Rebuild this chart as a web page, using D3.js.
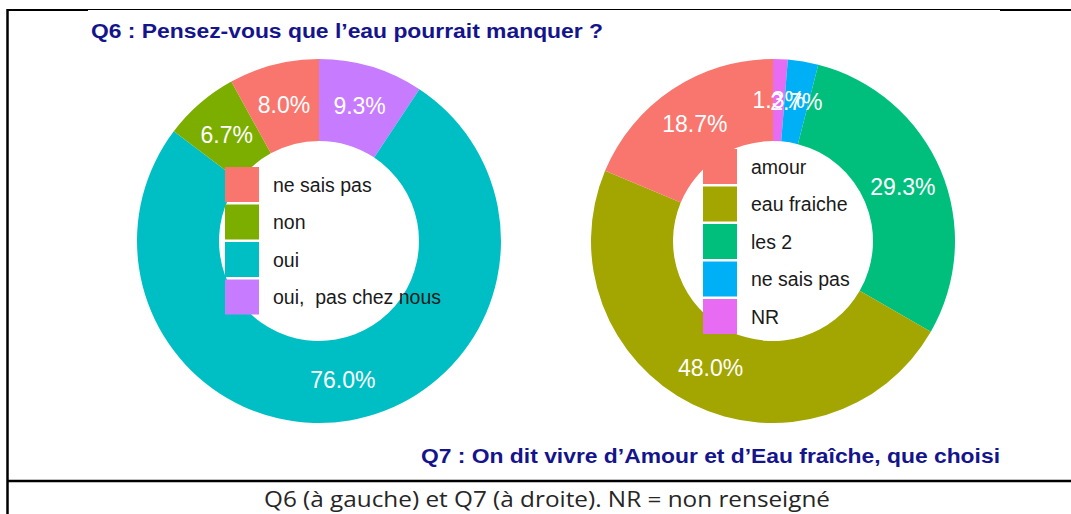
<!DOCTYPE html>
<html>
<head>
<meta charset="utf-8">
<script src="https://cdn.jsdelivr.net/npm/d3@7"></script>
<style>
    body { margin: 0; background: #fff; }
    svg { display: block; }
</style>
</head>
<body>
<svg width="1071" height="514"></svg>
<script>
// Q6 : l'eau pourrait manquer ?
const q6Categories = ["ne sais pas", "non", "oui", "oui,  pas chez nous"];
const q6Values = [8.0, 6.7, 76.0, 9.3];
const q6Colors = ["#F8766D", "#7CAE00", "#00BFC4", "#C77CFF"];

// Q7 : amour ou eau fraiche
const q7Categories = ["amour", "eau fraiche", "les 2", "ne sais pas", "NR"];
const q7Values = [18.7, 48.0, 29.3, 2.7, 1.3];
const q7Colors = ["#F8766D", "#A3A500", "#00BF7D", "#00B0F6", "#E76BF3"];

const q6Title = "Q6 : Pensez-vous que l\u2019eau pourrait manquer ?";
const q7Title = "Q7 : On dit vivre d\u2019Amour et d\u2019Eau fra\u00eeche, que choisi";
const caption = "Q6 (\u00e0 gauche) et Q7 (\u00e0 droite). NR = non renseign\u00e9";

document.addEventListener('DOMContentLoaded', function () {
    const svg = d3.select("svg");
    const titleColor = "#14148c";

    // cadre du tableau
    svg.append("line").attr("x1", 7.5).attr("x2", 7.5).attr("y1", 9).attr("y2", 514)
        .attr("stroke", "#000").attr("stroke-width", 2.5);
    svg.append("line").attr("x1", 7).attr("x2", 88).attr("y1", 10).attr("y2", 10)
        .attr("stroke", "#000").attr("stroke-width", 2);
    svg.append("line").attr("x1", 88).attr("x2", 1000).attr("y1", 9.5).attr("y2", 9.5)
        .attr("stroke", "#000").attr("stroke-width", 1);
    svg.append("line").attr("x1", 1000).attr("x2", 1071).attr("y1", 10).attr("y2", 10)
        .attr("stroke", "#000").attr("stroke-width", 2);
    svg.append("line").attr("x1", 7).attr("x2", 1071).attr("y1", 481).attr("y2", 481)
        .attr("stroke", "#000").attr("stroke-width", 2.5);

    function donut(categories, values, colors, cx, cy, legendX, legendTop) {
        const data = categories.map((c, i) => ({ name: c, value: values[i], color: colors[i] }));
        // ggplot empile : le dernier niveau part de midi dans le sens horaire
        const pie = d3.pie().sort(null).value(d => d.value);
        const arcs = pie(data.slice().reverse());
        const arc = d3.arc().innerRadius(100).outerRadius(182);
        const labelArc = d3.arc().innerRadius(141).outerRadius(141);

        const g = svg.append("g").attr("transform", `translate(${cx},${cy})`);

        g.selectAll("path").data(arcs).enter().append("path")
            .attr("d", arc)
            .attr("fill", d => d.data.color);

        g.selectAll(".lbl").data(arcs).enter().append("text")
            .attr("class", "lbl")
            .attr("transform", d => `translate(${labelArc.centroid(d)})`)
            .attr("text-anchor", "middle")
            .attr("dy", "0.36em")
            .attr("fill", "#fff")
            .style("font-family", "'Liberation Sans', Arial, sans-serif")
            .style("font-size", "23px")
            .text(d => d3.format(".1f")(d.data.value) + "%");

        const y = d3.scaleBand().domain(categories)
            .range([legendTop, legendTop + 37.5 * categories.length]);

        const leg = svg.append("g");
        leg.selectAll("rect").data(data).enter().append("rect")
            .attr("x", legendX)
            .attr("y", d => y(d.name))
            .attr("width", 34)
            .attr("height", 35)
            .attr("fill", d => d.color);
        leg.selectAll("text").data(data).enter().append("text")
            .attr("x", legendX + 48)
            .attr("y", d => y(d.name) + 17.5)
            .attr("dy", "0.36em")
            .attr("fill", "#1a1a1a")
            .style("font-family", "'Liberation Sans', Arial, sans-serif")
            .style("font-size", "19.5px")
            .style("white-space", "pre")
            .text(d => d.name);
    }

    donut(q6Categories, q6Values, q6Colors, 319, 241, 225, 167);
    donut(q7Categories, q7Values, q7Colors, 773, 241, 703, 149);

    svg.append("text")
        .attr("x", 91).attr("y", 38)
        .attr("textLength", 512).attr("lengthAdjust", "spacingAndGlyphs")
        .attr("fill", titleColor)
        .style("font-family", "'Liberation Sans', Arial, sans-serif")
        .style("font-weight", "bold")
        .style("font-size", "20px")
        .text(q6Title);

    svg.append("text")
        .attr("x", 421).attr("y", 463)
        .attr("textLength", 579).attr("lengthAdjust", "spacingAndGlyphs")
        .attr("fill", titleColor)
        .style("font-family", "'Liberation Sans', Arial, sans-serif")
        .style("font-weight", "bold")
        .style("font-size", "20px")
        .text(q7Title);

    svg.append("text")
        .attr("x", 264).attr("y", 507)
        .attr("textLength", 566).attr("lengthAdjust", "spacingAndGlyphs")
        .attr("fill", "#262626")
        .style("font-family", "'Open Sans', sans-serif")
        .style("font-size", "22px")
        .text(caption);
});
</script>
</body>
</html>
